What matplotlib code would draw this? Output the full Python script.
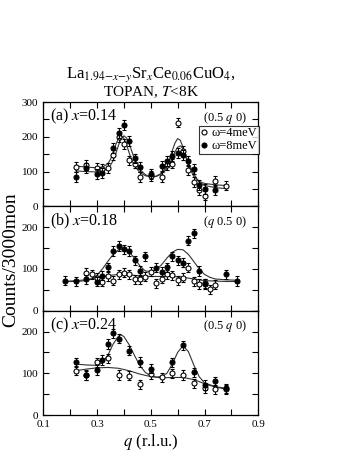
import matplotlib
matplotlib.use('Agg')
from matplotlib import pyplot as plt
from matplotlib.lines import Line2D
from matplotlib.ticker import MultipleLocator

plt.rcParams['font.family'] = ['Liberation Serif', 'DejaVu Serif']
plt.rcParams['mathtext.fontset'] = 'stix'

# panel (a) x=0.14, (0.5 q 0)
qa_4 = [0.22, 0.26, 0.30, 0.32, 0.34, 0.36, 0.38, 0.40, 0.42, 0.44, 0.46, 0.50,
        0.54, 0.56, 0.58, 0.60, 0.62, 0.64, 0.66, 0.68, 0.70, 0.74, 0.78]
ya_4 = [113, 118, 111, 107, 111, 147, 199, 180, 132, 123, 85, 88,
        85, 120, 123, 241, 160, 104, 70, 48, 31, 72, 60]
qa_8 = [0.22, 0.26, 0.30, 0.32, 0.36, 0.38, 0.40, 0.42, 0.44, 0.46, 0.50,
        0.54, 0.56, 0.58, 0.60, 0.62, 0.64, 0.66, 0.68, 0.70, 0.74]
ya_8 = [84, 111, 94, 95, 167, 210, 233, 188, 138, 113, 93,
        117, 131, 145, 153, 148, 131, 108, 62, 50, 48]
fit_qa = [0.22, 0.26, 0.30, 0.32, 0.34, 0.35, 0.36, 0.37, 0.38, 0.39, 0.40, 0.41,
          0.42, 0.43, 0.44, 0.46, 0.48, 0.50, 0.52, 0.54, 0.56, 0.57, 0.58, 0.59,
          0.60, 0.61, 0.62, 0.63, 0.64, 0.66, 0.68, 0.70, 0.74, 0.78]
fit_a4 = [116, 113, 111, 113, 122, 135, 155, 178, 196, 203, 196, 177,
          153, 132, 116, 97, 88, 85, 87, 95, 115, 136, 160, 182,
          195, 190, 170, 143, 117, 86, 72, 66, 62, 60]
fit_a8 = [102, 100, 99, 101, 109, 118, 132, 152, 176, 195, 203, 197,
          180, 157, 135, 106, 91, 85, 86, 93, 108, 120, 138, 157,
          170, 174, 166, 148, 126, 93, 70, 60, 54, 51]

# panel (b) x=0.18, (q 0.5 0)
qb_4 = [0.26, 0.28, 0.30, 0.32, 0.34, 0.36, 0.38, 0.40, 0.42, 0.44, 0.46, 0.48,
        0.50, 0.52, 0.54, 0.56, 0.58, 0.60, 0.62, 0.64, 0.66, 0.68, 0.70, 0.72, 0.74]
yb_4 = [91, 87, 79, 69, 83, 72, 87, 91, 87, 75, 75, 81,
        93, 66, 77, 87, 85, 73, 79, 103, 70, 64, 66, 51, 62]
qb_8 = [0.18, 0.22, 0.26, 0.30, 0.32, 0.34, 0.36, 0.38, 0.40, 0.42, 0.44, 0.46,
        0.48, 0.52, 0.54, 0.56, 0.58, 0.60, 0.62, 0.64, 0.66, 0.68, 0.70, 0.78, 0.82]
yb_8 = [72, 70, 75, 69, 84, 104, 143, 155, 147, 143, 121, 95,
        130, 103, 93, 104, 130, 121, 115, 168, 185, 95, 64, 87, 71]
fit_qb8 = [0.18, 0.22, 0.26, 0.28, 0.30, 0.32, 0.34, 0.36, 0.38, 0.40, 0.42, 0.44,
           0.46, 0.48, 0.50, 0.52, 0.54, 0.56, 0.58, 0.60, 0.62, 0.64, 0.66, 0.68,
           0.70, 0.72, 0.74, 0.78, 0.82]
fit_b8 = [70, 70, 72, 76, 85, 100, 118, 135, 146, 147, 141, 125,
          107, 95, 94, 98, 110, 126, 140, 147, 146, 135, 118, 100,
          87, 80, 76, 74, 73]
fit_qb4 = [0.18, 0.26, 0.30, 0.34, 0.38, 0.42, 0.46, 0.50, 0.54, 0.58, 0.62, 0.66,
           0.70, 0.74, 0.78, 0.82]
fit_b4 = [70, 74, 79, 84, 87, 86, 83, 82, 82, 82, 80, 76, 72, 71, 70, 70]

# panel (c) x=0.24, (0.5 q 0)
qc_4 = [0.22, 0.26, 0.30, 0.34, 0.38, 0.42, 0.46, 0.50, 0.54, 0.58, 0.62, 0.66,
        0.70, 0.74, 0.78]
yc_4 = [106, 95, 126, 136, 96, 94, 74, 98, 90, 100, 96, 76, 64, 62, 62]
qc_8 = [0.22, 0.26, 0.30, 0.32, 0.34, 0.36, 0.38, 0.42, 0.46, 0.50, 0.58, 0.62,
        0.66, 0.70, 0.74, 0.78]
yc_8 = [126, 96, 108, 132, 170, 196, 183, 154, 127, 111, 126, 167,
        102, 72, 81, 64]
fit_qc8 = [0.22, 0.26, 0.30, 0.32, 0.34, 0.36, 0.38, 0.39, 0.40, 0.42, 0.44, 0.46,
           0.48, 0.50, 0.52, 0.54, 0.56, 0.58, 0.60, 0.62, 0.64, 0.66, 0.68, 0.70,
           0.74, 0.78]
fit_c8 = [122, 120, 119, 125, 143, 170, 189, 192, 188, 168, 142, 118,
          102, 94, 91, 92, 100, 122, 150, 166, 152, 120, 92, 77, 68, 64]
fit_qc4 = [0.22, 0.26, 0.30, 0.34, 0.38, 0.42, 0.46, 0.50, 0.54, 0.58, 0.62, 0.66,
           0.70, 0.74, 0.78]
fit_c4 = [106, 110, 113, 114, 112, 106, 98, 92, 89, 90, 90, 85, 75, 67, 62]

panel_labels = ['(a) $x$=0.14', '(b) $x$=0.18', '(c) $x$=0.24']
directions = ['(0.5 $q$ 0)', '($q$ 0.5 0)', '(0.5 $q$ 0)']
errors = [14, 11, 11]
ylims = [300, 250, 250]


def style_axis(ax, ytop, show_x):
    ax.set_xlim(0.1, 0.9)
    ax.set_ylim(0, ytop)
    ax.set_xticks([0.1, 0.3, 0.5, 0.7, 0.9])
    ax.xaxis.set_minor_locator(MultipleLocator(0.1))
    ax.yaxis.set_major_locator(MultipleLocator(100))
    ax.yaxis.set_minor_locator(MultipleLocator(50))
    ax.tick_params(which='both', direction='in', top=True, right=True,
                   labelsize=8, width=0.8, length=4)
    for s in ax.spines.values():
        s.set_linewidth(0.9)
    if not show_x:
        ax.tick_params(labelbottom=False)
    else:
        ax.set_xticklabels(['0.1', '0.3', '0.5', '0.7', '0.9'])


def draw_panel(ax, q4, y4, q8, y8, fits, idx):
    for fq, fy in fits:
        ax.plot(fq, fy, color='#333333', lw=0.8, zorder=2)
    err = errors[idx]
    ax.errorbar(q4, y4, yerr=err, fmt='o', ms=3.6, mfc='white', mec='black',
                mew=0.8, ecolor='black', elinewidth=0.7, capsize=1.5, zorder=3)
    ax.errorbar(q8, y8, yerr=err, fmt='o', ms=3.6, mfc='black', mec='black',
                mew=0.8, ecolor='black', elinewidth=0.7, capsize=1.5, zorder=4)
    ax.text(0.03, 0.86, panel_labels[idx], transform=ax.transAxes,
            fontsize=11.5, va='center', ha='left')
    ax.text(0.95, 0.85, directions[idx], transform=ax.transAxes,
            fontsize=9, va='center', ha='right')
    style_axis(ax, ylims[idx], idx == 2)


def main():
    fig = plt.figure(figsize=(3.49, 4.51), dpi=100)
    ax_a = fig.add_axes([0.124, 0.5424, 0.616, 0.2313])
    ax_b = fig.add_axes([0.124, 0.3111, 0.616, 0.2313])
    ax_c = fig.add_axes([0.124, 0.0798, 0.616, 0.2313])

    draw_panel(ax_a, qa_4, ya_4, qa_8, ya_8,
               [(fit_qa, fit_a4), (fit_qa, fit_a8)], 0)
    draw_panel(ax_b, qb_4, yb_4, qb_8, yb_8,
               [(fit_qb8, fit_b8), (fit_qb4, fit_b4)], 1)
    draw_panel(ax_c, qc_4, yc_4, qc_8, yc_8,
               [(fit_qc8, fit_c8), (fit_qc4, fit_c4)], 2)

    handles = [
        Line2D([], [], ls='none', marker='o', ms=3.6, mfc='white', mec='black', mew=0.8),
        Line2D([], [], ls='none', marker='o', ms=3.6, mfc='black', mec='black', mew=0.8),
    ]
    leg = ax_a.legend(handles, ['\u03c9=4meV', '\u03c9=8meV'], loc='upper right',
                      bbox_to_anchor=(1.005, 0.775), fontsize=9, frameon=True,
                      fancybox=False, handlelength=0.6, handletextpad=0.3,
                      borderpad=0.15, labelspacing=0.05, borderaxespad=0)
    leg.get_frame().set_edgecolor('black')
    leg.get_frame().set_linewidth(0.8)

    ax_c.set_xlabel('$q$ (r.l.u.)', fontsize=12, labelpad=2)
    fig.text(0.03, 0.4235, 'Counts/3000mon', rotation=90, fontsize=14,
             ha='center', va='center')
    fig.text(0.4315, 0.829, 'La$_{1.94\\mathrm{-}x\\mathrm{-}y}$Sr$_x$Ce$_{0.06}$CuO$_4$,',
             fontsize=12, ha='center', va='baseline')
    fig.text(0.4315, 0.786, 'TOPAN, $T$<8K', fontsize=11, ha='center', va='baseline')

    fig.savefig('out.png', dpi=100)
    plt.close(fig)


if __name__ == '__main__':
    main()
